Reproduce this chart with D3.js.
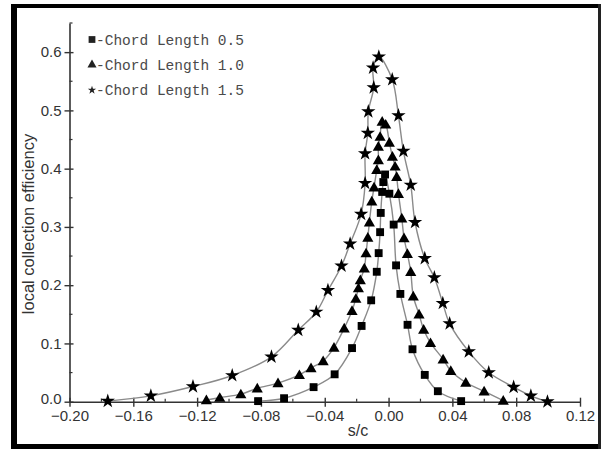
<!DOCTYPE html>
<html>
<head>
<meta charset="utf-8">
<script src="https://cdn.jsdelivr.net/npm/d3@7.9.0/dist/d3.min.js"></script>
<style>
  html, body { margin: 0; padding: 0; background: #fff; }
  svg { display: block; }
</style>
</head>
<body>
<svg id="chart" width="603" height="450"></svg>
<script>
// series labels and their points
const seriesLabels = ['-Chord Length 0.5', '-Chord Length 1.0', '-Chord Length 1.5'];

const chord05 = [
  [-0.0818, 0.001], [-0.0655, 0.006], [-0.047, 0.025], [-0.0338, 0.047],
  [-0.0229, 0.092], [-0.0169, 0.130], [-0.0109, 0.174], [-0.0074, 0.223],
  [-0.0062, 0.255], [-0.0053, 0.291], [-0.0049, 0.324], [-0.0040, 0.360],
  [-0.0033, 0.377], [-0.0022, 0.390], [0.0005, 0.357], [0.0032, 0.304],
  [0.0047, 0.234], [0.0074, 0.185], [0.0119, 0.132], [0.0150, 0.090],
  [0.0227, 0.046], [0.0309, 0.018], [0.0455, 0.001]
];

const chord10 = [
  [-0.1142, 0.003], [-0.1058, 0.007], [-0.0926, 0.013], [-0.0823, 0.023],
  [-0.0693, 0.032], [-0.0559, 0.046], [-0.0486, 0.058], [-0.041, 0.070],
  [-0.0342, 0.093], [-0.0278, 0.126], [-0.0229, 0.156], [-0.0205, 0.177],
  [-0.0189, 0.195], [-0.0177, 0.209], [-0.0152, 0.229], [-0.0141, 0.255],
  [-0.013, 0.282], [-0.012, 0.308], [-0.0105, 0.344], [-0.0091, 0.368],
  [-0.0074, 0.398], [-0.0064, 0.415], [-0.0064, 0.438], [-0.0053, 0.455],
  [-0.0040, 0.481], [-0.0018, 0.476], [0.0005, 0.445], [0.0024, 0.421],
  [0.0041, 0.404], [0.0051, 0.386], [0.0062, 0.357], [0.0083, 0.315],
  [0.0097, 0.281], [0.0118, 0.254], [0.0139, 0.223], [0.0155, 0.181],
  [0.0191, 0.150], [0.022, 0.124], [0.0263, 0.101], [0.0342, 0.073],
  [0.039, 0.053], [0.0484, 0.033], [0.0599, 0.018], [0.0719, 0.002]
];

const chord15 = [
  [-0.176, 0.001], [-0.149, 0.010], [-0.1226, 0.026], [-0.098, 0.045],
  [-0.0734, 0.077], [-0.0566, 0.123], [-0.0453, 0.154], [-0.038, 0.191],
  [-0.0295, 0.233], [-0.0241, 0.271], [-0.0172, 0.322], [-0.0147, 0.375],
  [-0.0147, 0.426], [-0.013, 0.461], [-0.0127, 0.498], [-0.0093, 0.539],
  [-0.0097, 0.573], [-0.0061, 0.592], [0.0023, 0.553], [0.0062, 0.491],
  [0.0093, 0.430], [0.0139, 0.372], [0.0166, 0.308], [0.0227, 0.246],
  [0.0287, 0.213], [0.034, 0.169], [0.0383, 0.134], [0.0503, 0.086],
  [0.0628, 0.050], [0.0784, 0.025], [0.0892, 0.010], [0.0996, 0.000]
];

const xTicks = [-0.20, -0.16, -0.12, -0.08, -0.04, 0.00, 0.04, 0.08, 0.12];
const yTicks = [0.0, 0.1, 0.2, 0.3, 0.4, 0.5, 0.6];

const series = [
  { label: seriesLabels[0], points: chord05, symbol: d3.symbolSquare, size: 62, legendSize: 46 },
  { label: seriesLabels[1], points: chord10, symbol: d3.symbolTriangle, size: 54, legendSize: 36 },
  { label: seriesLabels[2], points: chord15, symbol: d3.symbolStar, size: 64, legendSize: 22 }
];

const svg = d3.select('#chart');

// frame round the figure
svg.append('rect').attr('x', 0).attr('y', 0).attr('width', 603).attr('height', 450).attr('fill', '#fff');
const frame = svg.append('g').attr('fill', '#000');
frame.append('rect').attr('x', 11).attr('y', 4).attr('width', 590).attr('height', 4);
frame.append('rect').attr('x', 11).attr('y', 4).attr('width', 6).attr('height', 445);
frame.append('rect').attr('x', 11).attr('y', 444).attr('width', 590).attr('height', 5);
frame.append('rect').attr('x', 598).attr('y', 4).attr('width', 3).attr('height', 445).attr('fill', '#222');

const x = d3.scaleLinear().domain([-0.20, 0.12]).range([69.5, 580]);
const y = d3.scaleLinear().domain([0, 0.65]).range([401.7, 23]);

const axisColor = '#333';
const fontSans = '"Liberation Sans", Arial, sans-serif';

// x axis
const xAxis = svg.append('g').attr('transform', `translate(0,${y(0)})`)
  .call(d3.axisBottom(x).tickValues(xTicks).tickFormat(d3.format('.2f')).tickSizeInner(5).tickSizeOuter(0).tickPadding(4));
xAxis.select('.domain').attr('stroke', axisColor).attr('stroke-width', 1.6);
xAxis.selectAll('.tick line').attr('stroke', axisColor).attr('stroke-width', 1.4).attr('y1', -4);
xAxis.selectAll('.tick text').attr('fill', '#333').style('font-family', fontSans).style('font-size', '15px');
xAxis.selectAll('.minor').data(d3.range(-0.18, 0.12, 0.04)).join('line')
  .attr('x1', d => x(d)).attr('x2', d => x(d)).attr('y1', 0).attr('y2', -3)
  .attr('stroke', axisColor).attr('stroke-width', 1.2);

// y axis
const yAxis = svg.append('g').attr('transform', `translate(${x(-0.20)},0)`)
  .call(d3.axisLeft(y).tickValues(yTicks).tickFormat(d3.format('.1f')).tickSizeInner(5).tickSizeOuter(0).tickPadding(3));
yAxis.select('.domain').attr('stroke', axisColor).attr('stroke-width', 1.6);
yAxis.selectAll('.tick line').attr('stroke', axisColor).attr('stroke-width', 1.4).attr('x1', 4);
yAxis.selectAll('.tick text').attr('fill', '#333').style('font-family', fontSans).style('font-size', '15px');
// "0.0" sits just above the "-0.20" label, as in the picture
yAxis.selectAll('.tick text').filter(d => d === 0).attr('dy', '0.1em');
yAxis.selectAll('.minor').data(d3.range(0.05, 0.66, 0.1)).join('line')
  .attr('x1', 0).attr('x2', 3).attr('y1', d => y(d)).attr('y2', d => y(d))
  .attr('stroke', axisColor).attr('stroke-width', 1.2);

// axis titles
svg.append('text').attr('x', 358).attr('y', 436).attr('text-anchor', 'middle')
  .attr('fill', '#333').style('font-family', fontSans).style('font-size', '16px').text('s/c');
svg.append('text').attr('transform', 'translate(34,224) rotate(-90)').attr('text-anchor', 'middle')
  .attr('fill', '#333').style('font-family', fontSans).style('font-size', '16.5px').text('local collection efficiency');

// curves and markers
const line = d3.line().x(d => x(d[0])).y(d => y(d[1])).curve(d3.curveCatmullRom.alpha(0.5));

series.forEach(s => {
  svg.append('path').attr('d', line(s.points)).attr('fill', 'none')
    .attr('stroke', '#8a8a8a').attr('stroke-width', 1.4);
});

series.forEach(s => {
  const sym = d3.symbol().type(s.symbol).size(s.size);
  svg.append('g').selectAll('path').data(s.points).join('path')
    .attr('d', sym)
    .attr('transform', d => `translate(${x(d[0])},${y(d[1]) + (s.symbol === d3.symbolTriangle ? 1 : 0)})`)
    .attr('fill', '#000');
});

// legend
const legend = svg.append('g');
series.forEach((s, i) => {
  const ly = 39.5 + i * 25.3;
  legend.append('path').attr('d', d3.symbol().type(s.symbol).size(s.legendSize)())
    .attr('transform', `translate(92,${ly})`).attr('fill', '#222');
  legend.append('text').attr('x', 96).attr('y', ly + 5)
    .attr('fill', '#4a4a4a').style('font-family', '"Liberation Mono", "Courier New", monospace')
    .style('font-size', '14.5px').text(s.label);
});
</script>
</body>
</html>
